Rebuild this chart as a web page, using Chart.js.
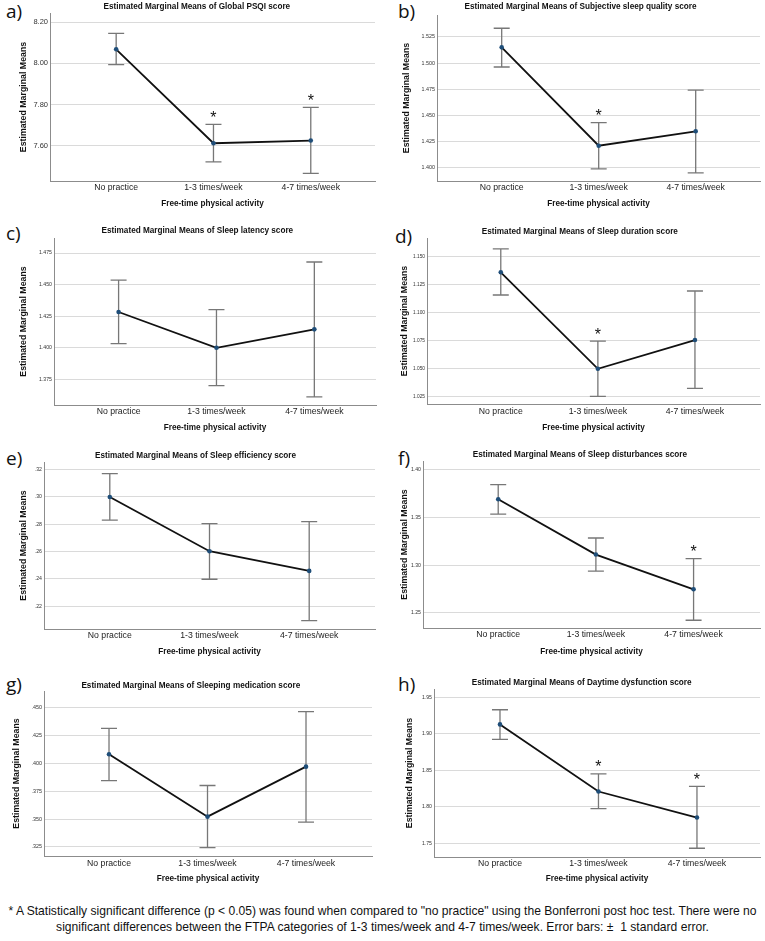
<!DOCTYPE html>
<html>
<head>
<meta charset="utf-8">
<script src="https://cdn.jsdelivr.net/npm/chart.js@4.4.1/dist/chart.umd.min.js"></script>
<style>
  body { margin: 0; background: #fff; width: 765px; height: 941px; position: relative; overflow: hidden; }
  canvas { position: absolute; }
  .lbl { position: absolute; font-family: 'Open Sans', sans-serif; font-size: 19px; line-height: 1; color: #111; }
  .note { position: absolute; left: 0; top: 903px; width: 765px; text-align: center; white-space: nowrap;
          font-family: 'Liberation Sans', sans-serif; font-size: 12.1px; line-height: 16px; color: #111; }
</style>
</head>
<body>
<div class="lbl" style="left:6px;top:2px">a)</div>
<div class="lbl" style="left:398px;top:2px">b)</div>
<div class="lbl" style="left:6px;top:224px">c)</div>
<div class="lbl" style="left:395px;top:227px">d)</div>
<div class="lbl" style="left:6px;top:449px">e)</div>
<div class="lbl" style="left:398px;top:449px">f)</div>
<div class="lbl" style="left:6px;top:675px">g)</div>
<div class="lbl" style="left:398px;top:675px">h)</div>
<div class="note">* A Statistically significant difference (p &lt; 0.05) was found when compared to "no practice" using the Bonferroni post hoc test. There were no<br>significant differences between the FTPA categories of 1-3 times/week and 4-7 times/week. Error bars: ± &nbsp;1 standard error.</div>
<script>
// ── Data ──────────────────────────────────────────────────────────
const categories = ['No practice', '1-3 times/week', '4-7 times/week'];

// a) Global PSQI
const meanA  = [8.068, 7.613, 7.626];
const upA    = [8.145, 7.704, 7.787];
const loA    = [7.994, 7.523, 7.467];
const sigA   = [false, true, true];
const ticksA = ['7.60', '7.80', '8.00', '8.20'];

// b) Subjective sleep quality
const meanB  = [1.515, 1.4208, 1.4346];
const upB    = [1.5333, 1.4429, 1.4740];
const loB    = [1.4962, 1.3987, 1.3948];
const sigB   = [false, true, false];
const ticksB = ['1.400', '1.425', '1.450', '1.475', '1.500', '1.525'];

// c) Sleep latency
const meanC  = [1.4283, 1.400, 1.4146];
const upC    = [1.4536, 1.4302, 1.4679];
const loC    = [1.4033, 1.3701, 1.3611];
const sigC   = [false, false, false];
const ticksC = ['1.375', '1.400', '1.425', '1.450', '1.475'];

// d) Sleep duration
const meanD  = [1.136, 1.0497, 1.0754];
const upD    = [1.1569, 1.0744, 1.1193];
const loD    = [1.1157, 1.025, 1.0321];
const sigD   = [false, true, false];
const ticksD = ['1.025', '1.050', '1.075', '1.100', '1.125', '1.150'];

// e) Sleep efficiency
const meanE  = [0.300, 0.2603, 0.2459];
const upE    = [0.3171, 0.2805, 0.2819];
const loE    = [0.2830, 0.2398, 0.2095];
const sigE   = [false, false, false];
const ticksE = ['.22', '.24', '.26', '.28', '.30', '.32'];

// f) Sleep disturbances
const meanF  = [1.3687, 1.311, 1.2747];
const upF    = [1.384, 1.3283, 1.3068];
const loF    = [1.3533, 1.2937, 1.2424];
const sigF   = [false, false, true];
const ticksF = ['1.25', '1.30', '1.35', '1.40'];

// g) Sleeping medication
const meanG  = [0.4082, 0.3522, 0.3971];
const upG    = [0.4315, 0.3802, 0.4464];
const loG    = [0.3845, 0.3244, 0.3473];
const sigG   = [false, false, false];
const ticksG = ['.325', '.350', '.375', '.400', '.425', '.450'];

// h) Daytime dysfunction
const meanH  = [1.913, 1.8212, 1.7856];
const upH    = [1.933, 1.8453, 1.8281];
const loH    = [1.8925, 1.7977, 1.7436];
const sigH   = [false, true, true];
const ticksH = ['1.75', '1.80', '1.85', '1.90', '1.95'];

// ── Panels (layout: plot box L,T,R,B in page px) ─────────────────
const PANELS = [
  { title: 'Estimated Marginal Means of Global PSQI score', mean: meanA, up: upA, lo: loA, sig: sigA, ticks: ticksA,
    yr: [7.43, 8.244], xr: [-0.68, 2.66], ox: 0, oy: 0, box: [50, 13, 375, 181],
    titleX: 197, titleY: 7, yTitleX: 24, tickY: 188, xTitleY: 203, yTick: 7.5 },
  { title: 'Estimated Marginal Means of Subjective sleep quality score', mean: meanB, up: upB, lo: loB, sig: sigB, ticks: ticksB,
    yr: [1.387, 1.546], xr: [-0.667, 2.663], ox: 380, oy: 0, box: [437, 15, 760, 181],
    titleX: 580.5, titleY: 7, yTitleX: 407, tickY: 188, xTitleY: 203, yTick: 5.4 },
  { title: 'Estimated Marginal Means of Sleep latency score', mean: meanC, up: upC, lo: loC, sig: sigC, ticks: ticksC,
    yr: [1.3547, 1.4869], xr: [-0.66, 2.63], ox: 0, oy: 215, box: [54, 238, 376, 405],
    titleX: 198.3, titleY: 231, yTitleX: 24, tickY: 412, xTitleY: 427, yTick: 5.2 },
  { title: 'Estimated Marginal Means of Sleep duration score', mean: meanD, up: upD, lo: loD, sig: sigD, ticks: ticksD,
    yr: [1.0182, 1.1667], xr: [-0.76, 2.67], ox: 380, oy: 215, box: [427, 238, 760, 404],
    titleX: 581.7, titleY: 231.7, yTitleX: 405, tickY: 412, xTitleY: 427, yTick: 4.8 },
  { title: 'Estimated Marginal Means of Sleep efficiency score', mean: meanE, up: upE, lo: loE, sig: sigE, ticks: ticksE,
    yr: [0.2034, 0.3256], xr: [-0.66, 2.66], ox: 0, oy: 440, box: [44, 462, 375, 629],
    titleX: 195.5, titleY: 455.7, yTitleX: 23.3, tickY: 636, xTitleY: 651, yTick: 5.2 },
  { title: 'Estimated Marginal Means of Sleep disturbances score', mean: meanF, up: upF, lo: loF, sig: sigF, ticks: ticksF,
    yr: [1.2343, 1.4087], xr: [-0.77, 2.68], ox: 380, oy: 440, box: [423, 461, 760, 628],
    titleX: 582.5, titleY: 455, yTitleX: 405, tickY: 635, xTitleY: 651, yTick: 5.2 },
  { title: 'Estimated Marginal Means of Sleeping medication score', mean: meanG, up: upG, lo: loG, sig: sigG, ticks: ticksG,
    yr: [0.3169, 0.465], xr: [-0.66, 2.67], ox: 0, oy: 665, box: [44, 691, 372, 856],
    titleX: 190.8, titleY: 686, yTitleX: 16.7, tickY: 864, xTitleY: 878, yTick: 5.4 },
  { title: 'Estimated Marginal Means of Daytime dysfunction score', mean: meanH, up: upH, lo: loH, sig: sigH, ticks: ticksH,
    yr: [1.7316, 1.9614], xr: [-0.67, 2.64], ox: 380, oy: 665, box: [434, 689, 760, 857],
    titleX: 581.7, titleY: 682.7, yTitleX: 410, tickY: 864, xTitleY: 878, yTick: 5.2 },
];

const FONT = "'Liberation Sans', Arial, sans-serif";
const FS = { title: 8.2, yTitle: 8.8, xTitle: 8.2, xTick: 8.7 };

// ── Error bars + significance asterisks ──────────────────────────
const errorBars = {
  id: 'errorBars',
  beforeDatasetsDraw(chart, args, opts) {
    const { ctx, scales: { x, y } } = chart;
    ctx.save();
    ctx.strokeStyle = '#777';
    ctx.lineWidth = 1.3;
    opts.upper.forEach((u, i) => {
      const px = x.getPixelForValue(i);
      const top = y.getPixelForValue(u);
      const bot = y.getPixelForValue(opts.lower[i]);
      ctx.beginPath();
      ctx.moveTo(px, top); ctx.lineTo(px, bot);
      ctx.moveTo(px - 8, top); ctx.lineTo(px + 8, top);
      ctx.moveTo(px - 8, bot); ctx.lineTo(px + 8, bot);
      ctx.stroke();
    });
    ctx.restore();
  },
  afterDatasetsDraw(chart, args, opts) {
    const { ctx, scales: { x, y } } = chart;
    ctx.save();
    ctx.fillStyle = '#111';
    ctx.font = '16px ' + FONT;
    ctx.textAlign = 'center';
    ctx.textBaseline = 'alphabetic';
    opts.sig.forEach((s, i) => {
      if (!s) return;
      const px = x.getPixelForValue(i);
      const top = y.getPixelForValue(opts.upper[i]);
      ctx.fillText('*', px, top - 1.5);
    });
    ctx.restore();
  },
};

function makeChart(p) {
  const [L, T, R, B] = p.box;
  const cw = 385, ch = p.oy === 0 ? 215 : 225;
  const lhT = FS.title * 1.2, lhY = FS.yTitle * 1.2, lhX = FS.xTick * 1.2, lhXT = FS.xTitle * 1.2;
  // left padding centres the title; it may not pass the y-axis title
  const padL = Math.max(0, Math.min(2 * (p.titleX - p.ox) - (R - p.ox), (p.yTitleX - p.ox) - lhY / 2));
  const padR = cw - (R - p.ox);
  const yW = (L - p.ox) - padL;
  const xH = 30;
  const padB = ch - (B - p.oy) - xH;

  const canvas = document.createElement('canvas');
  canvas.width = cw; canvas.height = ch;
  canvas.style.left = p.ox + 'px'; canvas.style.top = p.oy + 'px';
  canvas.style.width = cw + 'px'; canvas.style.height = ch + 'px';
  document.body.appendChild(canvas);

  new Chart(canvas, {
    type: 'line',
    data: {
      datasets: [{
        data: p.mean.map((v, i) => ({ x: i, y: v })),
        borderColor: '#111',
        borderWidth: 1.8,
        pointRadius: 2.3,
        pointBackgroundColor: '#1f4e79',
        pointBorderWidth: 0,
        tension: 0,
      }],
    },
    options: {
      responsive: false,
      animation: false,
      layout: { padding: { left: padL, right: padR, top: 0, bottom: padB } },
      plugins: {
        legend: { display: false },
        tooltip: { enabled: false },
        title: {
          display: true, text: p.title, color: '#111',
          font: { family: FONT, size: FS.title, weight: 'bold', lineHeight: 1.2 },
          padding: { top: p.titleY - p.oy - lhT / 2, bottom: T - p.titleY - lhT / 2 },
        },
        errorBars: { upper: p.up, lower: p.lo, sig: p.sig },
      },
      scales: {
        x: {
          type: 'linear', min: p.xr[0], max: p.xr[1],
          afterBuildTicks: s => { s.ticks = categories.map((c, i) => ({ value: i })); },
          afterFit: s => { s.height = xH; },
          grid: { display: false, drawTicks: false },
          border: { display: true, color: '#8c8c8c' },
          ticks: {
            padding: p.tickY - B - lhX / 2, color: '#222', autoSkip: false, maxRotation: 0,
            font: { family: FONT, size: FS.xTick, lineHeight: 1.2 },
            callback: v => categories[v],
          },
          title: {
            display: true, text: 'Free-time physical activity', color: '#111',
            font: { family: FONT, size: FS.xTitle, weight: 'bold', lineHeight: 1.2 },
            padding: { top: 0, bottom: B + xH - p.xTitleY - lhXT / 2 - 1 },
          },
        },
        y: {
          min: p.yr[0], max: p.yr[1],
          afterBuildTicks: s => { s.ticks = p.ticks.map(t => ({ value: parseFloat(t) })); },
          afterFit: s => { s.width = yW; },
          grid: { color: '#dadada', drawTicks: false },
          border: { display: true, color: '#8c8c8c' },
          ticks: {
            padding: 2, color: '#333',
            font: { family: FONT, size: p.yTick },
            callback: (v, i) => p.ticks[i],
          },
          title: {
            display: true, text: 'Estimated Marginal Means', color: '#111',
            font: { family: FONT, size: FS.yTitle, weight: 'bold', lineHeight: 1.2 },
            padding: { top: Math.max(0, (p.yTitleX - p.ox) - padL - lhY / 2), bottom: 0 },
          },
        },
      },
    },
    plugins: [errorBars],
  });
}

PANELS.forEach(makeChart);
</script>
</body>
</html>
